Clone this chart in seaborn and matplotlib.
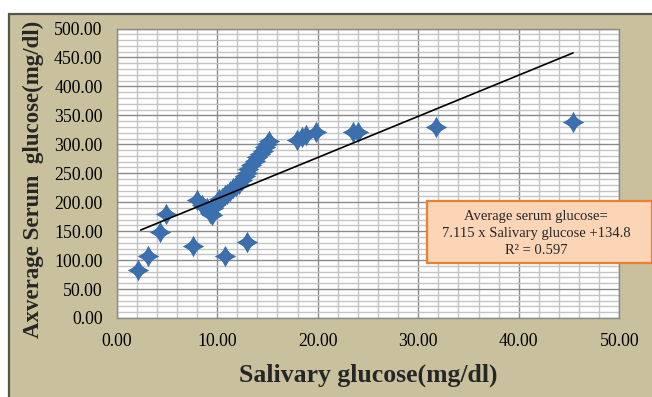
import matplotlib
matplotlib.use("Agg")
import matplotlib.pyplot as plt
from matplotlib.patches import Rectangle
from matplotlib.ticker import MultipleLocator, FormatStrFormatter
import seaborn as sns
import pandas as pd
import numpy as np

# ---- data ----
salivary = [2.1, 3.1, 4.3, 4.9, 7.6, 8.0, 8.5, 9.0, 9.3, 9.5, 9.6, 9.8, 10.0,
            10.2, 10.5, 10.8, 11.0, 11.3, 11.6, 11.9, 12.2, 12.5, 12.8, 13.0,
            13.1, 13.4, 13.8, 14.0, 14.3, 14.6, 14.8, 15.0, 15.2, 10.8, 13.0,
            17.9, 18.4, 18.8, 19.8, 23.5, 24.0, 31.8, 45.4]
serum = [83, 107, 148, 180, 125, 203, 195, 190, 182, 178, 190, 195, 200,
         205, 208, 212, 215, 220, 225, 228, 232, 238, 245, 250,
         258, 265, 272, 278, 283, 288, 295, 300, 305, 107, 131,
         308, 312, 316, 322, 321, 321, 330, 338]
slope = 7.115
intercept = 134.8
eq_lines = ["Average serum glucose=",
            "7.115 x Salivary glucose +134.8",
            "R\u00b2 = 0.597"]
x_label = "Salivary glucose(mg/dl)"
y_label = "Axverage Serum  glucose(mg/dl)"

df = pd.DataFrame({"x": salivary, "y": serum})
xfit = np.array([2.4, max(salivary)])
fit = pd.DataFrame({"x": xfit, "y": slope * xfit + intercept})

sns.set_style("white")
plt.rcParams["font.family"] = ["Liberation Serif", "DejaVu Serif"]

W, H = 652, 397
fig = plt.figure(figsize=(W / 100, H / 100), dpi=100)
fig.patch.set_facecolor("white")
khaki = "#C9C19D"
fig.patches.append(Rectangle((9 / W, -0.02), 1.05, 1 - 14 / H + 0.02,
                             transform=fig.transFigure, facecolor=khaki,
                             edgecolor="#55554A", linewidth=1.6, zorder=-10))

left, right = 116.5 / W, 619.3 / W
top, bottom = 1 - 28.5 / H, 1 - 318 / H
ax = fig.add_axes([left, bottom, right - left, top - bottom])
ax.set_zorder(5)
ax.set_facecolor("white")

ax.set_xlim(0, 50)
ax.set_ylim(0, 500)
ax.xaxis.set_major_locator(MultipleLocator(10))
ax.xaxis.set_minor_locator(MultipleLocator(2))
ax.yaxis.set_major_locator(MultipleLocator(50))
ax.yaxis.set_minor_locator(MultipleLocator(10))
ax.xaxis.set_major_formatter(FormatStrFormatter("%.2f"))
ax.yaxis.set_major_formatter(FormatStrFormatter("%.2f"))

ax.grid(which="major", color="#8A8A8A", linewidth=1.0, zorder=0)
ax.grid(which="minor", color="#C4C4C4", linewidth=1.0, zorder=0)
ax.set_axisbelow(True)
for s in ax.spines.values():
    s.set_color("#8A8A8A")
    s.set_linewidth(1.0)

ax.tick_params(which="major", direction="out", length=4, width=1,
               color="#8A8A8A", labelsize=12.8, labelcolor="black")
ax.tick_params(axis="x", which="major", pad=7)
ax.tick_params(axis="y", which="major", pad=6)
ax.tick_params(which="minor", length=0)

blue = "#3B6FAD"
sns.scatterplot(data=df, x="x", y="y", marker=(4, 1, 0), s=240, color=blue,
                edgecolor=blue, linewidth=0, ax=ax, zorder=3, legend=False)
sns.scatterplot(data=df, x="x", y="y", marker="D", s=70, color=blue,
                edgecolor=blue, linewidth=0, ax=ax, zorder=3, legend=False)
sns.lineplot(data=fit, x="x", y="y", color="black", linewidth=1.2, ax=ax,
             zorder=4)

ax.set_xlabel(x_label, fontsize=18.5, fontweight="bold")
ax.set_ylabel(y_label, fontsize=16.5, fontweight="bold")
ax.xaxis.label.set_va("center")
ax.yaxis.label.set_va("center")
ax.xaxis.set_label_coords(0.5, -0.197)
ax.yaxis.set_label_coords(-0.166, 0.48)

# equation box (extends past the plot frame to the figure edge)
fig.patches.append(Rectangle((427.3 / W, 1 - 262.7 / H), (652 - 427.3) / W,
                             (262.7 - 201) / H, transform=fig.transFigure,
                             facecolor="#FBD5B6", edgecolor="#EF7E30",
                             linewidth=1.6, zorder=10))
fig.text(536 / W, 1 - 233.3 / H, "\n".join(eq_lines), ha="center",
         va="center", fontsize=10.5, linespacing=1.38, zorder=11)

fig.savefig("out.png", dpi=100, facecolor=fig.get_facecolor())
